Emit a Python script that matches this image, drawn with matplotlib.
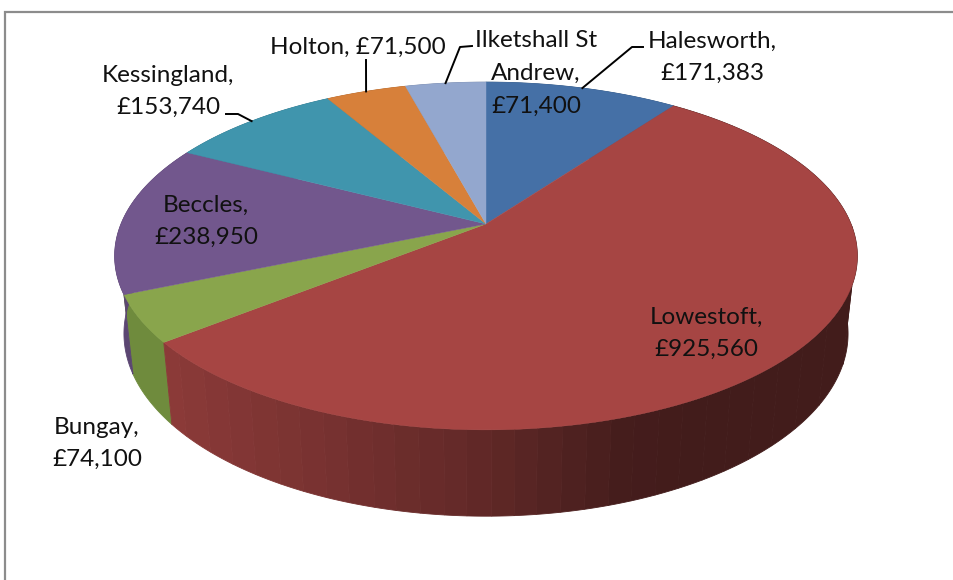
import numpy as np
import matplotlib
matplotlib.use("Agg")
import matplotlib.pyplot as plt

# data
towns = ["Halesworth", "Lowestoft", "Bungay", "Beccles", "Kessingland", "Holton", "Ilketshall St Andrew"]
amounts = [171383, 925560, 74100, 238950, 153740, 71500, 71400]
amount_text = ["£171,383", "£925,560", "£74,100", "£238,950", "£153,740", "£71,500", "£71,400"]
top_colors = ["#4570A6", "#A64543", "#89A54C", "#72578D", "#4095AD", "#D7803A", "#93A7CE"]
side_colors = ["#365880", "#A64543", "#6F8B3D", "#5B4672", "#33778A", "#AC662E", "#7585A4"]

# pie geometry in pixels
cx, cy = 486.0, 224.0
rad_x, rad_y = 365.0, 168.0
persp = 0.184
low_x, low_y, depth = 0.975, 1.05, 76.0


def rim(theta, bottom=False):
    # theta is clockwise from the top, in radians
    u, v = np.sin(theta), np.cos(theta)
    d = 1 + persp * v
    dx, dy = rad_x * u / d, -rad_y * v / d
    if bottom:
        return cx + low_x * dx, cy + low_y * dy + depth
    return cx + dx, cy + dy


def shade(base, f):
    rgb = np.array(matplotlib.colors.to_rgb(base))
    return tuple(rgb * f)


def wall(a, col, z):
    xt, yt = rim(a)
    xb, yb = rim(a, True)
    ax.fill(np.r_[xt, xb[::-1]], np.r_[yt, yb[::-1]], color=col, lw=0.6, zorder=z)


fig = plt.figure(figsize=(9.54, 5.8), dpi=100)
ax = fig.add_axes([0, 0, 1, 1])
ax.set_xlim(0, 954)
ax.set_ylim(580, 0)
ax.axis("off")

# chart frame, only left and top show
ax.plot([5.5, 5.5, 954], [580, 11.5, 11.5], color="#8C8C8C", lw=1.6, solid_joinstyle="miter")

fracs = np.array(amounts) / sum(amounts)
edges = np.concatenate([[0], np.cumsum(fracs)]) * 2 * np.pi

# side walls
for i in range(len(towns)):
    if i == 1:
        continue
    wall(np.linspace(edges[i], edges[i + 1], 80), side_colors[i], 2)

# red wall gets darker to the right, in bands
a = np.linspace(edges[1], edges[2], 600)
band = np.round(rim(a)[0] / 24).astype(int)
cuts = np.r_[0, np.nonzero(np.diff(band))[0] + 1, len(a) - 1]
for s, e in zip(cuts[:-1], cuts[1:]):
    f = np.interp(band[s] * 24, [165, 300, 486, 620, 680], [0.84, 0.74, 0.58, 0.42, 0.40])
    wall(a[s:e + 1], shade(top_colors[1], f), 2)

# top face
for i in range(len(towns)):
    a = np.linspace(edges[i], edges[i + 1], 120)
    xs, ys = rim(a)
    ax.fill(np.r_[cx, xs], np.r_[cy, ys], color=top_colors[i], lw=0.3, zorder=3)

# label text: centre x, centre y
label_x = [712, 706, 97, 206, 168, 358, 536]
label_y = [57.5, 333.5, 443.5, 221.5, 91.5, 47, 73.5]
label_text = ["Halesworth,\n" + amount_text[0],
              "Lowestoft,\n" + amount_text[1],
              "Bungay,\n" + amount_text[2],
              "Beccles,\n" + amount_text[3],
              "Kessingland,\n" + amount_text[4],
              "Holton, " + amount_text[5],
              "Ilketshall St\nAndrew,\n" + amount_text[6]]
for i in range(len(towns)):
    ax.text(label_x[i], label_y[i], label_text[i], ha="center", va="center", ma="center",
            fontsize=17.5, family="Lato", color="#111111", linespacing=1.68, zorder=5)

# leader lines run from the middle of the slice rim out to the label
leaders = {0: [(643, 47), (632, 47)], 4: [(226, 114), (238, 114)], 5: [(366, 60)], 6: [(472, 46), (460, 47)]}
for i, pts in leaders.items():
    mx, my = rim((edges[i] + edges[i + 1]) / 2)
    xs = [p[0] for p in pts] + [mx]
    ys = [p[1] for p in pts] + [my]
    ax.plot(xs, ys, color="black", lw=1.4, zorder=4)

fig.savefig("out.png", dpi=100)
